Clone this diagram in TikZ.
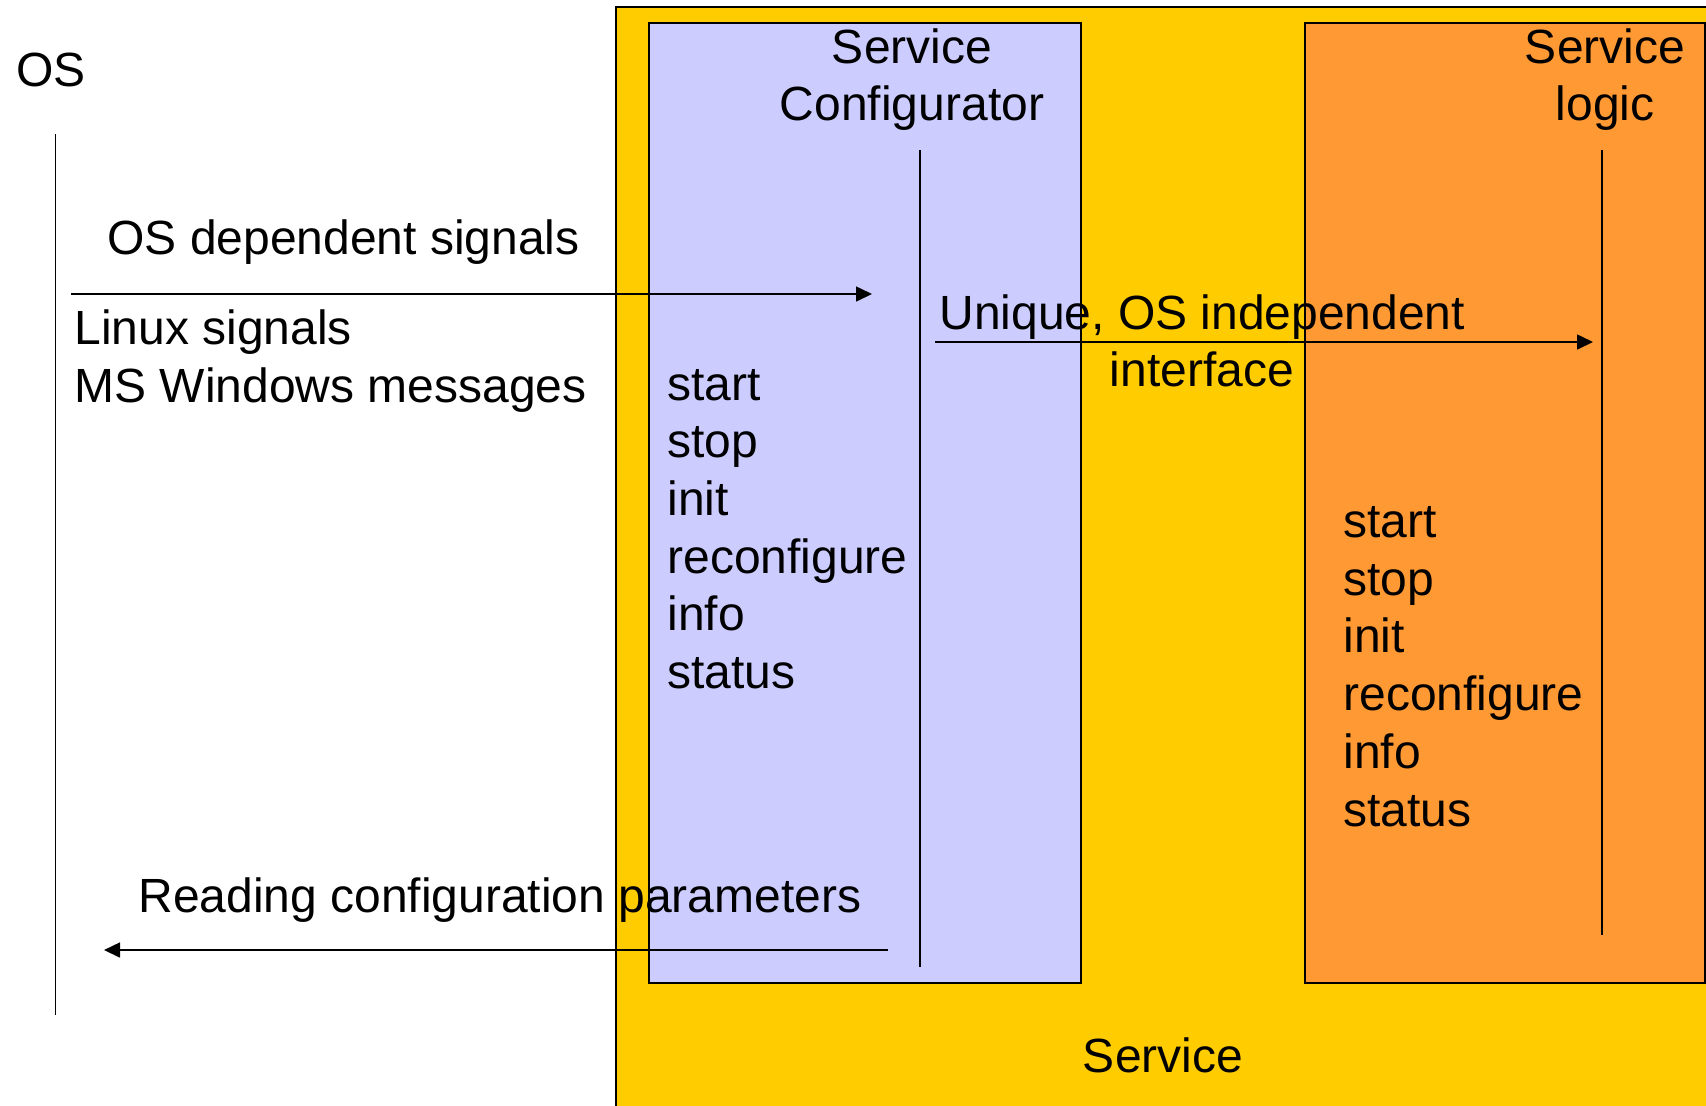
\documentclass[tikz,border=0pt]{standalone}
\usepackage{fontspec}
\setmainfont{Liberation Sans}
\usetikzlibrary{arrows.meta}
\definecolor{svcyellow}{HTML}{FFCC00}
\definecolor{cfgpurple}{HTML}{CCCCFF}
\definecolor{logorange}{HTML}{FF9933}
\begin{document}
\begin{tikzpicture}[x=0.5pt,y=-0.5pt,
  box/.style={draw=black,line width=1pt,anchor=north west,inner sep=0pt},
  lbl/.style={inner sep=0pt,font=\fontsize{24pt}{28.8pt}\selectfont},
  lline/.style={line width=0.8pt},
  msg/.style={line width=0.8pt,-{Triangle[length=8pt,width=7.5pt]}}]
\useasboundingbox (0,0) rectangle (1706,1105);
\fill[white] (0,0) rectangle (1706,1105);
% boxes
\node[box,fill=svcyellow,minimum width=555pt,minimum height=555pt] (svc) at (615,6) {};
\node[box,fill=cfgpurple,minimum width=216pt,minimum height=480pt] (cfg) at (648,22) {};
\node[box,fill=logorange,minimum width=200pt,minimum height=480pt] (logic) at (1304,22) {};
% lifelines
\coordinate (osT) at (55.5,134);
\coordinate (osB) at (55.5,1015);
\coordinate (cfgT) at (920,150);
\coordinate (cfgB) at (920,967);
\coordinate (logT) at (1602,150);
\coordinate (logB) at (1602,935);
\draw[lline] (osT) -- (osB);
\draw[lline] (cfgT) -- (cfgB);
\draw[lline] (logT) -- (logB);
% messages
\coordinate (m1s) at (71,294);
\coordinate (m1e) at (872,294);
\coordinate (m2s) at (935,342);
\coordinate (m2e) at (1593,342);
\coordinate (m3s) at (888,950);
\coordinate (m3e) at (104,950);
\draw[msg] (m1s) -- (m1e);
\draw[msg] (m2s) -- (m2e);
\draw[msg] (m3s) -- (m3e);
% labels
\node[lbl,anchor=base west] (os) at (16,86) {OS};
\node[lbl,anchor=base] (cfgA) at (912,63) {Service};
\node[lbl,anchor=base] (cfgB2) at (912,120) {Configurator};
\node[lbl,anchor=base] (logA) at (1605,63) {Service};
\node[lbl,anchor=base] (logB2) at (1605,120) {logic};
\node[lbl,anchor=base west] (osdep) at (107,254) {OS dependent signals};
\node[lbl,anchor=base west] (linux) at (74,344) {Linux signals};
\node[lbl,anchor=base west] (mswin) at (74,402) {MS Windows messages};
\node[lbl,anchor=base west] (uniq) at (939,329) {Unique, OS independent};
\node[lbl,anchor=base] (iface) at (1202,386) {interface};
\node[lbl,anchor=base west] (reading) at (138,912) {Reading configuration parameters};
\node[lbl,anchor=base] (svclbl) at (1163,1072) {Service};
\foreach \t [count=\i from 0] in {start,stop,init,reconfigure,info,status}{
  \node[lbl,anchor=base west] (c\i) at (667,{400+57.7*\i}) {\t};
  \node[lbl,anchor=base west] (l\i) at (1343,{537.5+57.7*\i}) {\t};
}
\end{tikzpicture}
\end{document}
